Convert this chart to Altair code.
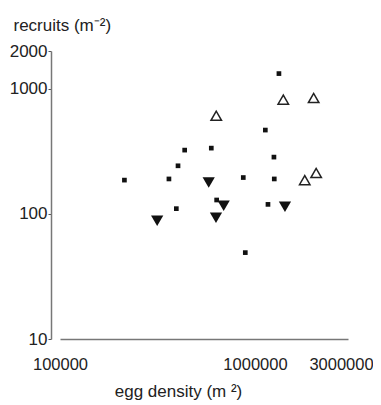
import altair as alt
import pandas as pd

# small squares
sq_x = [1327000, 1130000, 436000, 597000, 403000, 362000, 1251000, 871000,
        1256000, 636000, 395000, 1166000, 892000, 214000]
sq_y = [1320, 467, 323, 335, 242, 190, 284, 195, 190, 129, 110, 119, 49, 186]
# open up-triangles
up_x = [1397000, 2000000, 633000, 2060000, 1800000]
up_y = [817, 843, 608, 212, 186]
# filled down-triangles
dn_x = [579000, 691000, 631000, 315000, 1425000]
dn_y = [178, 116, 93, 88, 114]

x_ticks = [100000, 1000000, 3000000]
y_ticks = [10, 100, 1000, 2000]

df_sq = pd.DataFrame({"egg": sq_x, "rec": sq_y})
df_up = pd.DataFrame({"egg": up_x, "rec": up_y})
df_dn = pd.DataFrame({"egg": dn_x, "rec": dn_y})

xscale = alt.Scale(type="log", domain=[100000, 3000000], nice=False)
yscale = alt.Scale(type="log", domain=[10, 2000], nice=False)

xaxis = alt.Axis(values=x_ticks, format="d", title="egg density (m ²)",
                 grid=False, ticks=False, tickSize=0, labelPadding=17,
                 labelFlush=False, labelOverlap=False,
                 labelOffset={"condition": {"test": "datum.value >= 2000000", "value": -7},
                              "value": 0},
                 labelFontSize=16.5,
                 domainColor="#777", domainWidth=1.5,
                 titleX=118, titleY=57, titleAlign="center",
                 titleBaseline="alphabetic")
yaxis = alt.Axis(values=y_ticks, format="d", title="recruits (m⁻²)",
                 grid=False, tickSize=3, tickColor="#555", labelPadding=1,
                 labelOverlap=False,
                 offset=9, domainColor="#777", domainWidth=1.5,
                 titleAngle=0, titleAlign="left", titleBaseline="alphabetic",
                 titleX=-38, titleY=-21)

enc = dict(
    x=alt.X("egg:Q", scale=xscale, axis=xaxis),
    y=alt.Y("rec:Q", scale=yscale, axis=yaxis),
)

sq = alt.Chart(df_sq).mark_square(size=22, color="#111", opacity=1).encode(**enc)
up = alt.Chart(df_up).mark_point(shape="triangle-up", size=110, filled=False,
                                 color="#222", strokeWidth=1.5, opacity=1).encode(**enc)
dn = alt.Chart(df_dn).mark_point(shape="triangle-down", size=150, filled=True,
                                 color="#111", opacity=1).encode(**enc)

chart = alt.layer(sq, up, dn).properties(
    width=288, height=288,
    autosize=alt.AutoSizeParams(type="none"),
    padding={"left": 52, "top": 43, "right": 25, "bottom": 62},
).configure_view(stroke=None).configure_axis(
    labelFont="Liberation Sans", titleFont="Liberation Sans",
    labelFontSize=17, titleFontSize=17,
    labelColor="#222", titleColor="#222", titleFontWeight="normal",
)

chart.save("out.html", embed_options={"renderer": "svg", "actions": False})
